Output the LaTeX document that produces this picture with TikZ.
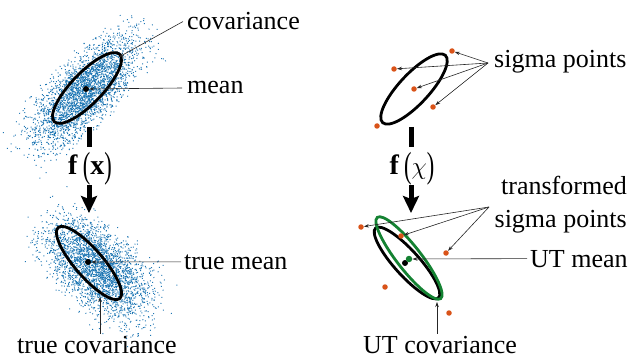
\documentclass[tikz,border=0pt]{standalone}
\usepackage{fontspec}
\setmainfont{Liberation Serif}
\usetikzlibrary{arrows.meta,calc}
\definecolor{dotblue}{RGB}{31,119,180}
\definecolor{sigorange}{RGB}{217,83,25}
\definecolor{utgreen}{RGB}{20,130,50}
\begin{document}
\begin{tikzpicture}[x=1pt,y=-1pt,
  lbl/.style={font=\fontsize{26}{30}\selectfont, inner sep=0pt},
  ptr/.style={draw=black!85, line width=0.6pt, -{Stealth[length=5pt,width=3.5pt]}},
  ell/.style={draw=black, line width=2.8pt},
  gell/.style={draw=utgreen, line width=2.8pt},
  sigpt/.style={circle, fill=sigorange, inner sep=0pt, minimum size=5.5pt},
  meandot/.style={circle, fill=black, inner sep=0pt, minimum size=6pt},
  gdot/.style={circle, fill=utgreen, inner sep=0pt, minimum size=6.5pt},
  bar/.style={line width=5pt},
  bigarrow/.style={line width=5pt, -{Stealth[length=17pt,width=16pt,inset=3pt]}},
  fnode/.style={font=\fontsize{28}{30}\selectfont, inner sep=0pt},
  pdot/.style={fill=dotblue}
]
\useasboundingbox (0,0) rectangle (644,358);
% ---------- scatter clouds ----------
\pgfmathsetseed{7}
\begin{scope}[shift={(85,91)}, rotate=47]
\foreach \i in {1,...,3000}{
  \pgfmathsetmacro\u{35*(rand+rand+rand)}
  \pgfmathsetmacro\v{14*(rand+rand+rand)}
  \fill[pdot] (\u,\v) circle (0.7pt);
}
\end{scope}
\begin{scope}[shift={(98,268)}, rotate=-42]
\foreach \i in {1,...,3000}{
  \pgfmathsetmacro\u{31*(rand+rand+rand)}
  \pgfmathsetmacro\v{17*(rand+rand+rand)}
  \fill[pdot] (\u,\v) circle (0.7pt);
}
\end{scope}
% ---------- left panel ----------
\draw[ell] (87,88) circle[x radius=47pt, y radius=15.5pt, rotate=46];
\node[meandot] (m1) at (86,89) {};
\coordinate (covtip) at (119,57);
\node[lbl, anchor=base west] (cov) at (187,30) {covariance};
\node[lbl, anchor=base west] (mean) at (187,94) {mean};
\draw[ptr] ([xshift=-4pt]cov.west) -- (covtip);
\draw[ptr] ([xshift=-5pt]mean.west) -- (m1);
\draw[bar] (89,127) -- (89,147);
\node[fnode, anchor=base] (fx) at (90,175) {\textbf{f}\hspace{5pt}\raisebox{-3pt}{\scalebox{0.8}[1.3]{(}}\textbf{x}\raisebox{-3pt}{\scalebox{0.8}[1.3]{)}}};
\draw[bigarrow] (89,185) -- (89,213);
\draw[ell] (89,263) circle[x radius=47pt, y radius=14pt, rotate=-49];
\node[meandot] (m2) at (88,262) {};
\node[lbl, anchor=base west] (tmean) at (184,269) {true mean};
\draw[ptr] ([xshift=-3pt]tmean.west) -- (m2);
\node[lbl, anchor=base] (tcov) at (97,353) {true covariance};
\coordinate (tcovtip) at (100,297);
\draw[ptr] ([yshift=2pt]tcov.north -| tcovtip) -- (tcovtip);
% ---------- right panel ----------
\draw[ell] (414,89) circle[x radius=46pt, y radius=15pt, rotate=47];
\node[sigpt] (s1) at (452,51) {};
\node[sigpt] (s2) at (394,69) {};
\node[sigpt] (s3) at (414,89) {};
\node[sigpt] (s4) at (433,107) {};
\node[sigpt] (s5) at (377,126) {};
\node[lbl, anchor=base west] (sig) at (494,68) {sigma points};
\coordinate (sigo) at (488,63);
\foreach \t in {s1,s2,s3,s4}{\draw[ptr] (sigo) -- (\t);}
\draw[bar] (411,127) -- (411,147);
\node[fnode, anchor=base] (fchi) at (412,175) {\textbf{f}\hspace{5pt}\raisebox{-3pt}{\scalebox{0.8}[1.3]{(}}$\chi$\raisebox{-3pt}{\scalebox{0.8}[1.3]{)}}};
\draw[bigarrow] (411,185) -- (411,213);
\draw[ell] (407,263) circle[x radius=47pt, y radius=12.5pt, rotate=-48];
\draw[gell] (409,258) circle[x radius=51.5pt, y radius=12pt, rotate=-52];
\node[sigpt] (t1) at (361,227) {};
\node[sigpt] (t2) at (401,236) {};
\node[sigpt] (t3) at (446,253) {};
\node[sigpt] (t4) at (385,287) {};
\node[sigpt] (t5) at (449,313) {};
\node[meandot] (m3) at (405,263) {};
\node[gdot] (m4) at (409,259) {};
\node[lbl, anchor=base east] (tr1) at (627,194) {transformed};
\node[lbl, anchor=base east] (tr2) at (627,227) {sigma points};
\coordinate (tro) at (489,207);
\foreach \t in {t1,t2,t3}{\draw[ptr] (tro) -- (\t);}
\node[lbl, anchor=base west] (utmean) at (530,267) {UT mean};
\draw[ptr] ([xshift=-3pt]utmean.west) -- (m4);
\node[lbl, anchor=base] (utcov) at (440,353) {UT covariance};
\coordinate (utcovtip) at (437,302);
\draw[ptr] ([yshift=2pt]utcov.north -| utcovtip) -- (utcovtip);
\end{tikzpicture}
\end{document}
